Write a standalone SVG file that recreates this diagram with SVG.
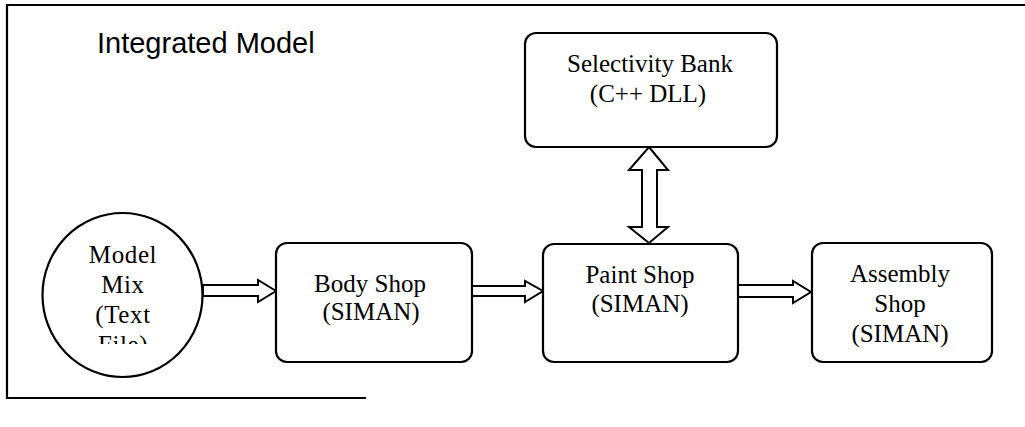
<svg xmlns="http://www.w3.org/2000/svg" width="1025" height="427" viewBox="0 0 1025 427">
<style>
.box{fill:#fff;stroke:#000;stroke-width:2.2}
.arr{fill:#fff;stroke:#000;stroke-width:2;stroke-linejoin:miter}
.lbl{font-family:"Liberation Serif","Times New Roman",serif;font-size:25px;fill:#000;text-anchor:middle}
.title{font-family:"Liberation Sans",Arial,sans-serif;font-size:29px;fill:#000}
.frame{stroke:#000;stroke-width:2.2;fill:none}
</style>
<defs>
<clipPath id="circClip"><rect x="40" y="200" width="170" height="144"/></clipPath>
</defs>
<rect width="1025" height="427" fill="#fff"/>
<g id="frame">
<line class="frame" x1="7" y1="5" x2="1025" y2="5"/>
<line class="frame" x1="7" y1="4" x2="7" y2="399"/>
<line class="frame" x1="6" y1="398" x2="366" y2="398"/>
</g>
<g id="title"><text class="title" x="97" y="53">Integrated Model</text></g>
<g id="connectors">
<polygon class="arr" points="203,285 258,285 258,280 276,291 258,302 258,296 203,296"/>
<polygon class="arr" points="472,286 525,286 525,281 543,291 525,302 525,296 472,296"/>
<polygon class="arr" points="738,285 793,285 793,281 811,292 793,303 793,297 738,297"/>
<polygon class="arr" points="649,147 668,170 657,170 657,227 668,227 649,243 629,227 642,227 642,170 629,170"/>
</g>
<g id="model-mix">
<ellipse class="box" cx="122.5" cy="295" rx="80" ry="82"/>
<g clip-path="url(#circClip)">
<text class="lbl" style="letter-spacing:0.6px" x="123" y="263">Model</text>
<text class="lbl" style="letter-spacing:0.6px" x="123" y="293">Mix</text>
<text class="lbl" style="letter-spacing:0.6px" x="123" y="323">(Text</text>
<text class="lbl" style="letter-spacing:0.6px" x="123" y="353">File)</text>
</g>
</g>
<g id="body-shop">
<rect class="box" x="276" y="243" width="196" height="119" rx="11"/>
<text class="lbl" x="370" y="292">Body Shop</text>
<text class="lbl" x="371" y="320">(SIMAN)</text>
</g>
<g id="paint-shop">
<rect class="box" x="543" y="244" width="195" height="118" rx="11"/>
<text class="lbl" x="640" y="283">Paint Shop</text>
<text class="lbl" x="640" y="312">(SIMAN)</text>
</g>
<g id="assembly-shop">
<rect class="box" x="812" y="243" width="180" height="119" rx="11"/>
<text class="lbl" x="900" y="282">Assembly</text>
<text class="lbl" x="900" y="312">Shop</text>
<text class="lbl" x="900" y="342">(SIMAN)</text>
</g>
<g id="selectivity-bank">
<rect class="box" x="525" y="33" width="252" height="114" rx="11"/>
<text class="lbl" x="650" y="72">Selectivity Bank</text>
<text class="lbl" x="648" y="102">(C++ DLL)</text>
</g>
</svg>
